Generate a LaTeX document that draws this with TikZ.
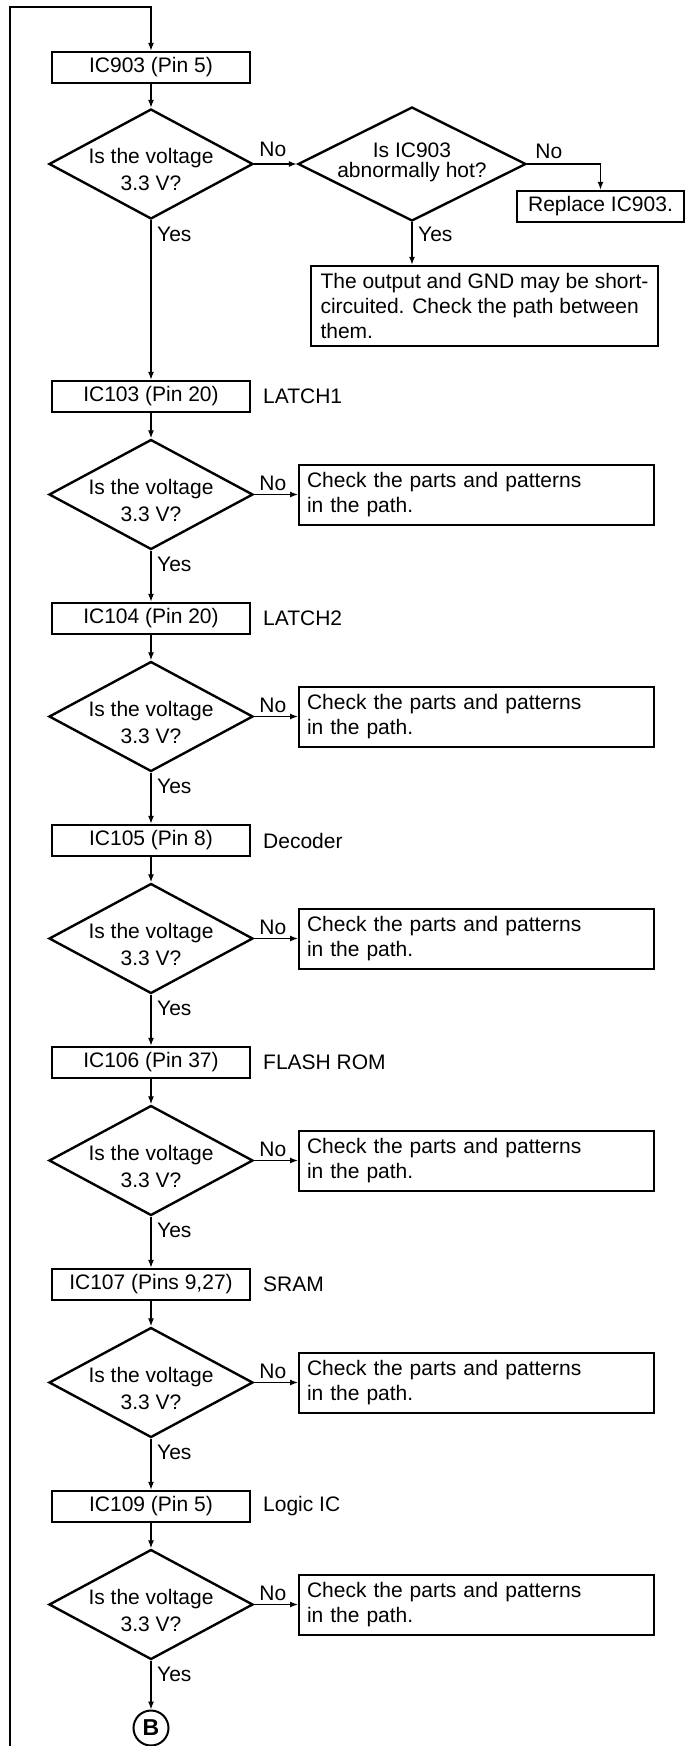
\documentclass[tikz,border=0pt]{standalone}
\usepackage{fontspec}
\setmainfont{Liberation Sans}
\usetikzlibrary{shapes.geometric,arrows.meta,calc}
\tikzset{
  conn/.style={line width=1.3pt},
  arr/.style={conn,-{Latex[length=8pt,width=6pt]}},
  box/.style={draw,line width=2.5pt,minimum width=198pt,minimum height=31pt,inner sep=0pt},
  dia/.style={diamond,draw,line width=2.4pt,minimum width=204pt,minimum height=110pt,inner sep=0pt},
  dtext/.style={align=center,inner sep=0pt,font=\fontsize{21}{27}\selectfont},
  chk/.style={draw,line width=2pt,minimum width=355pt,minimum height=60pt,text width=339pt,inner xsep=8pt,inner ysep=0pt,align=left,font=\fontsize{21}{25}\selectfont},
  side/.style={anchor=west,inner sep=0pt},
  nolab/.style={anchor=south west,inner sep=0pt},
  yeslab/.style={anchor=west,inner sep=0pt}
}
\newcommand{\fcrow}[4]{%
  \node[box] (b#1) at (151,#2) {#3};
  \node[side] (s#1) at (263,#2) {#4};
  \path (151,#2) ++(0,98) coordinate (dc#1);
  \node[dia] (d#1) at (dc#1) {};
  \node[dtext] (t#1) at ($(dc#1)+(0,5.5)$) {Is the voltage\\3.3 V?};
  \node[chk] (c#1) at ($(dc#1)+(325.5,0)$) {Check the parts and patterns\\in the path.};
  \draw[arr] (b#1) -- (d#1);
  \draw[arr] (d#1) -- (c#1);
  \node[nolab] (n#1) at ($(d#1.east)+(5,-4)$) {No};
  \node[yeslab] (y#1) at ($(d#1.south)+(6,14)$) {Yes};
}
\begin{document}
\begin{tikzpicture}[x=1pt,y=-1pt,font=\fontsize{21}{25}\selectfont]
\useasboundingbox (0,0) rectangle (694,1746);
% top block
\node[box] (b0) at (151,67.5) {IC903 (Pin 5)};
\node[dia] (dA) at (151,164) {};
\node[dtext] (tA) at (151,169.5) {Is the voltage\\3.3 V?};
\node[dia,minimum width=228pt,minimum height=114pt] (dB) at (412,164) {};
\node[dtext,font=\fontsize{21}{20}\selectfont] (tB) at (412,162) {Is IC903\\abnormally hot?};
\node[box,minimum width=167pt] (rep) at (600.5,206.5) {Replace IC903.};
\node[draw,line width=2.5pt,minimum width=347pt,minimum height=80pt,inner xsep=8pt,inner ysep=0pt,align=left] (big) at (484.5,306) {The output and GND may be short-\\circuited. Check the path between\\them.};
\coordinate (loopbot) at (10,1746);
\coordinate (looptop) at (10,7);
\draw[arr] (loopbot) -- (looptop) -| (b0.north);
\draw[arr] (b0) -- (dA);
\draw[arr] (dA) -- (dB);
\draw[arr] (dB.east) -| (rep.north);
\draw[arr] (dB.south) -- (dB.south |- big.north);
\node[nolab] (nA) at ($(dA.east)+(5,-7)$) {No};
\node[nolab] (nB) at ($(dB.east)+(8,-5)$) {No};
\node[yeslab] (yA) at ($(dA.south)+(6,14)$) {Yes};
\node[yeslab] (yB) at ($(dB.south)+(6,12)$) {Yes};
% rows
\fcrow{1}{396.5}{IC103 (Pin 20)}{LATCH1}
\fcrow{2}{618.5}{IC104 (Pin 20)}{LATCH2}
\fcrow{3}{840.5}{IC105 (Pin 8)}{Decoder}
\fcrow{4}{1062.5}{IC106 (Pin 37)}{FLASH ROM}
\fcrow{5}{1284.5}{IC107 (Pins 9,27)}{SRAM}
\fcrow{6}{1506.5}{IC109 (Pin 5)}{Logic IC}
\draw[arr] (dA) -- (b1);
\draw[arr] (d1) -- (b2);
\draw[arr] (d2) -- (b3);
\draw[arr] (d3) -- (b4);
\draw[arr] (d4) -- (b5);
\draw[arr] (d5) -- (b6);
\node[circle,draw,line width=2pt,minimum size=35pt,inner sep=0pt,font=\fontsize{23}{25}\selectfont\bfseries] (endB) at (151,1728) {B};
\draw[arr] (d6) -- (endB);
\end{tikzpicture}
\end{document}
